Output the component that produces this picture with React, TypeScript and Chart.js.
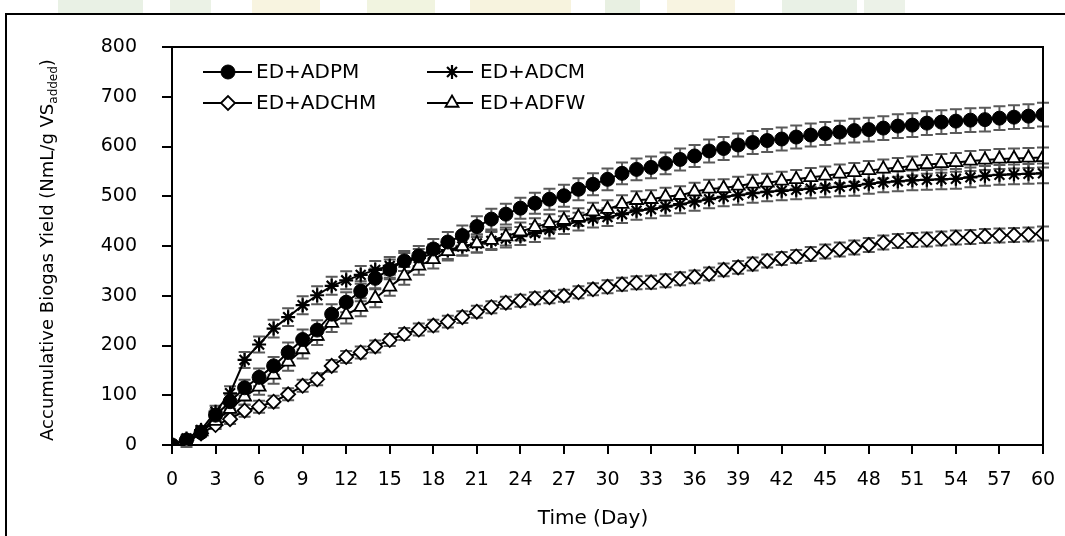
import React, { useEffect, useRef } from "react";
import { Chart, registerables } from "chart.js";
import { drawPoint } from "chart.js/helpers";

Chart.register(...registerables);

const days = [
  0, 1, 2, 3, 4, 5, 6, 7, 8, 9,
  10, 11, 12, 13, 14, 15, 16, 17, 18, 19,
  20, 21, 22, 23, 24, 25, 26, 27, 28, 29,
  30, 31, 32, 33, 34, 35, 36, 37, 38, 39,
  40, 41, 42, 43, 44, 45, 46, 47, 48, 49,
  50, 51, 52, 53, 54, 55, 56, 57, 58, 59, 60,
];

const seriesNames = ["ED+ADPM", "ED+ADCM", "ED+ADCHM", "ED+ADFW"];

const adpm = [
  0, 10, 25, 60, 87, 115, 136, 159, 186, 212,
  231, 263, 287, 309, 335, 353, 370, 380, 394, 408,
  421, 439, 454, 464, 476, 486, 494, 501, 514, 524,
  534, 546, 554, 558, 566, 574, 581, 591, 596, 603,
  608, 612, 615, 619, 623, 626, 629, 632, 634, 637,
  641, 643, 647, 649, 651, 653, 654, 657, 659, 661, 664,
];
const adcm = [
  0, 13, 30, 67, 104, 171, 202, 234, 257, 281,
  301, 320, 331, 342, 352, 360, 368, 376, 385, 392,
  399, 405, 410, 415, 420, 426, 433, 442, 449, 455,
  458, 464, 471, 474, 479, 484, 489, 494, 499, 502,
  506, 509, 511, 513, 515, 517, 519, 521, 525, 528,
  530, 532, 533, 534, 535, 538, 541, 543, 544, 545, 546,
];
const adchm = [
  0, 10, 23, 40, 52, 69, 77, 87, 102, 119,
  132, 159, 177, 186, 198, 211, 223, 232, 240, 248,
  257, 268, 277, 286, 290, 295, 297, 300, 307, 313,
  318, 323, 326, 327, 330, 334, 338, 344, 352, 357,
  364, 370, 375, 379, 384, 389, 393, 397, 402, 407,
  410, 412, 413, 415, 417, 418, 420, 421, 422, 423, 425,
];
const adfw = [
  0, 0, 27, 48, 72, 97, 117, 141, 167, 192,
  219, 245, 262, 277, 295, 318, 340, 360, 373, 389,
  399, 405, 412, 419, 429, 438, 446, 452, 458, 469,
  474, 484, 492, 494, 499, 502, 509, 515, 516, 521,
  525, 527, 531, 534, 538, 541, 545, 548, 552, 555,
  558, 561, 564, 566, 568, 571, 573, 575, 576, 577, 578,
];

const errPm = [
  0, 6, 8, 12, 14, 16, 18, 18, 20, 20,
  20, 20, 20, 20, 20, 20, 20, 20, 20, 20,
  20, 21, 21, 21, 21, 21, 21, 22, 22, 22,
  22, 22, 22, 22, 22, 22, 22, 23, 23, 23,
  23, 23, 23, 23, 23, 23, 23, 24, 24, 24,
  24, 24, 24, 24, 24, 24, 24, 24, 24, 24, 24,
];
const errCm = [
  0, 6, 8, 12, 14, 16, 16, 18, 18, 18,
  18, 18, 18, 18, 18, 18, 18, 18, 18, 18,
  18, 18, 18, 18, 18, 18, 18, 18, 18, 18,
  18, 18, 18, 18, 18, 18, 18, 18, 19, 19,
  19, 19, 19, 19, 19, 19, 19, 20, 20, 20,
  20, 20, 20, 20, 20, 20, 20, 20, 20, 20, 20,
];
const errChm = [
  0, 4, 6, 8, 10, 12, 12, 12, 12, 12,
  12, 12, 12, 12, 12, 12, 12, 12, 12, 12,
  12, 12, 12, 12, 12, 12, 12, 12, 12, 12,
  13, 13, 13, 13, 13, 13, 13, 13, 13, 13,
  13, 13, 13, 13, 14, 14, 14, 14, 14, 14,
  14, 14, 14, 14, 14, 14, 14, 14, 14, 14, 14,
];
const errFw = [
  0, 4, 8, 12, 14, 16, 16, 18, 18, 18,
  18, 18, 18, 18, 18, 18, 18, 18, 18, 18,
  18, 18, 18, 18, 18, 18, 18, 18, 18, 18,
  18, 18, 18, 18, 18, 18, 18, 18, 18, 18,
  18, 18, 18, 19, 19, 19, 19, 19, 19, 19,
  19, 19, 19, 19, 19, 20, 20, 20, 20, 20, 20,
];

const xTitle = "Time (Day)";
const yTitleMain = "Accumulative Biogas Yield (NmL/g VS";
const yTitleSub = "added";
const yTitleEnd = ")";

const FONT = "'DejaVu Sans', Verdana, sans-serif";

type Style = { pointStyle: string; radius: number; fill: string; bw: number };
const styles: Style[] = [
  { pointStyle: "circle", radius: 7, fill: "#000", bw: 1 },
  { pointStyle: "star", radius: 7, fill: "#000", bw: 2.2 },
  { pointStyle: "rectRot", radius: 7, fill: "#fff", bw: 1.8 },
  { pointStyle: "triangle", radius: 7.5, fill: "#fff", bw: 1.8 },
];

const seriesValues = [adpm, adcm, adchm, adfw];
const seriesErrors = [errPm, errCm, errChm, errFw];

const bgPlugin = {
  id: "bgFrame",
  beforeDraw(chart: any) {
    const ctx = chart.ctx;
    ctx.save();
    ctx.fillStyle = "#fff";
    ctx.fillRect(0, 0, chart.width, chart.height);
    const blocks: [number, number, string][] = [
      [58, 143, "#e9f1e5"], [170, 211, "#ebf2e6"], [252, 320, "#f8f4e0"],
      [367, 435, "#f1f4e0"], [470, 571, "#f7f3de"], [605, 640, "#e8f0e2"],
      [667, 735, "#f8f4e1"], [782, 857, "#e9f1e6"], [864, 905, "#ecf2e8"],
    ];
    blocks.forEach(([a, b, c]) => {
      ctx.fillStyle = c;
      ctx.fillRect(a, 0, b - a, 13);
    });
    ctx.strokeStyle = "#000";
    ctx.lineWidth = 2;
    ctx.beginPath();
    ctx.moveTo(6, chart.height + 5);
    ctx.lineTo(6, 14);
    ctx.lineTo(chart.width + 5, 14);
    ctx.stroke();
    ctx.restore();
  },
};

const errorBarPlugin = {
  id: "errorBars",
  beforeDatasetsDraw(chart: any) {
    const ctx = chart.ctx;
    const xs = chart.scales.x;
    const ys = chart.scales.y;
    ctx.save();
    ctx.strokeStyle = "#5a5a5a";
    ctx.lineWidth = 2;
    seriesValues.forEach((vals, si) => {
      const errs = seriesErrors[si];
      vals.forEach((v, i) => {
        const e = errs[i];
        if (!e) return;
        const x = xs.getPixelForValue(days[i]);
        const y1 = ys.getPixelForValue(v + e);
        const y2 = ys.getPixelForValue(v - e);
        ctx.beginPath();
        ctx.moveTo(x, y1);
        ctx.lineTo(x, y2);
        ctx.moveTo(x - 6, y1);
        ctx.lineTo(x + 6, y1);
        ctx.moveTo(x - 6, y2);
        ctx.lineTo(x + 6, y2);
        ctx.stroke();
      });
    });
    ctx.restore();
  },
};

const overlayPlugin = {
  id: "overlay",
  afterDraw(chart: any) {
    const ctx = chart.ctx;
    const a = chart.chartArea;
    ctx.save();
    ctx.strokeStyle = "#000";
    ctx.lineWidth = 2;
    ctx.beginPath();
    ctx.moveTo(a.left, a.top);
    ctx.lineTo(a.right, a.top);
    ctx.lineTo(a.right, a.bottom);
    ctx.stroke();

    const rows = [
      [0, 203, 252, 228, 256, 72],
      [1, 427, 473, 452, 480, 72],
      [2, 203, 252, 228, 256, 103],
      [3, 427, 473, 452, 480, 103],
    ];
    ctx.font = `20px ${FONT}`;
    ctx.textBaseline = "middle";
    ctx.textAlign = "left";
    rows.forEach(([si, x1, x2, mx, tx, y]) => {
      const st = styles[si];
      ctx.strokeStyle = "#000";
      ctx.lineWidth = 2;
      ctx.beginPath();
      ctx.moveTo(x1, y);
      ctx.lineTo(x2, y);
      ctx.stroke();
      ctx.fillStyle = st.fill;
      ctx.strokeStyle = "#000";
      ctx.lineWidth = st.bw;
      drawPoint(ctx, { pointStyle: st.pointStyle as any, radius: st.radius, rotation: 0, borderWidth: st.bw }, mx, y);
      ctx.fillStyle = "#000";
      ctx.fillText(seriesNames[si], tx, y + 1);
    });

    ctx.fillStyle = "#000";
    ctx.font = `20px ${FONT}`;
    ctx.textAlign = "center";
    ctx.textBaseline = "middle";
    ctx.fillText(xTitle, 593, 519);

    ctx.save();
    ctx.translate(48, 250);
    ctx.rotate(-Math.PI / 2);
    ctx.textAlign = "left";
    ctx.textBaseline = "middle";
    ctx.font = `18px ${FONT}`;
    const mw = ctx.measureText(yTitleMain).width;
    const ew = ctx.measureText(yTitleEnd).width;
    ctx.font = `12px ${FONT}`;
    const sw = ctx.measureText(yTitleSub).width;
    const total = mw + sw + ew;
    const x0 = -total / 2;
    ctx.font = `18px ${FONT}`;
    ctx.fillText(yTitleMain, x0, 0);
    ctx.font = `12px ${FONT}`;
    ctx.fillText(yTitleSub, x0 + mw, 6);
    ctx.font = `18px ${FONT}`;
    ctx.fillText(yTitleEnd, x0 + mw + sw, 0);
    ctx.restore();

    ctx.restore();
  },
};

export default function App() {
  const ref = useRef<HTMLCanvasElement | null>(null);
  useEffect(() => {
    if (!ref.current) return;
    const datasets = seriesValues.map((vals, si) => {
      const st = styles[si];
      return {
        label: seriesNames[si],
        data: vals.map((v, i) => ({ x: days[i], y: v })),
        borderColor: "#000",
        borderWidth: 2,
        pointStyle: st.pointStyle,
        pointRadius: st.radius,
        pointBackgroundColor: st.fill,
        pointBorderColor: "#000",
        pointBorderWidth: st.bw,
        tension: 0,
        order: si === 0 ? 0 : si === 3 ? 1 : si === 1 ? 2 : 3,
      };
    });
    const chart = new Chart(ref.current, {
      type: "line",
      data: { datasets: datasets as any },
      options: {
        animation: false,
        responsive: false,
        devicePixelRatio: 1,
        layout: { padding: { left: 0, right: 22, top: 47, bottom: 0 } },
        plugins: { legend: { display: false }, tooltip: { enabled: false } },
        scales: {
          x: {
            type: "linear",
            min: 0,
            max: 60,
            afterFit: (s: any) => { s.height = 91; s.paddingRight = 0; s.paddingLeft = 0; },
            ticks: {
              stepSize: 3,
              autoSkip: false,
              maxRotation: 0,
              color: "#000",
              padding: 15,
              font: { family: FONT, size: 19 },
            },
            grid: { drawOnChartArea: false, drawTicks: true, tickLength: 9, color: "#000", lineWidth: 2 },
            border: { color: "#000", width: 2 },
          },
          y: {
            min: 0,
            max: 800,
            afterFit: (s: any) => { s.width = 172; s.paddingTop = 0; s.paddingBottom = 0; },
            ticks: {
              stepSize: 100,
              color: "#000",
              padding: 25,
              font: { family: FONT, size: 19 },
            },
            grid: { drawOnChartArea: false, drawTicks: true, tickLength: 10, color: "#000", lineWidth: 2 },
            border: { color: "#000", width: 2 },
          },
        },
      },
      plugins: [bgPlugin, errorBarPlugin, overlayPlugin],
    });
    return () => chart.destroy();
  }, []);
  return (
    <div style={{ position: "fixed", left: 0, top: 0, width: 1065, height: 536, background: "#fff" }}>
      <canvas ref={ref} width={1065} height={536} style={{ display: "block", width: 1065, height: 536 }} />
    </div>
  );
}
